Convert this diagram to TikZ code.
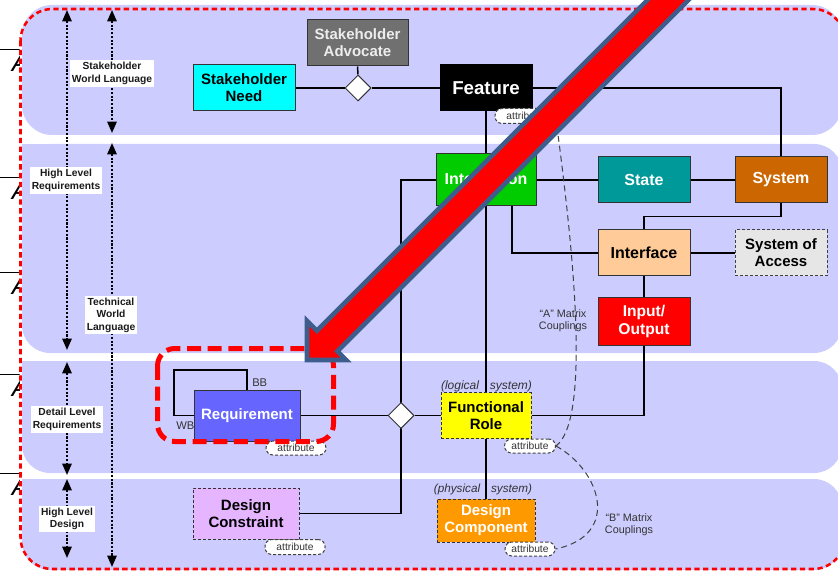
\documentclass[tikz,border=0pt]{standalone}
\usepackage{fontspec}
\setmainfont{Liberation Sans}
\usetikzlibrary{shapes.geometric,arrows.meta}
\pgfdeclarelayer{bands}\pgfdeclarelayer{lines}\pgfdeclarelayer{top}
\pgfsetlayers{bands,lines,main,top}
\definecolor{bandc}{HTML}{CCCCFF}
\definecolor{bordc}{HTML}{333333}
\definecolor{textd}{HTML}{1A1A1A}
\definecolor{dashc}{HTML}{404040}
\definecolor{advc}{HTML}{707070}
\definecolor{cyanc}{HTML}{00FFFF}
\definecolor{integc}{HTML}{00CC00}
\definecolor{statec}{HTML}{009999}
\definecolor{sysc}{HTML}{CC6600}
\definecolor{ifacec}{HTML}{FFCC99}
\definecolor{soac}{HTML}{E6E6E6}
\definecolor{ioc}{HTML}{FF0000}
\definecolor{frc}{HTML}{FFFF00}
\definecolor{reqc}{HTML}{6666FF}
\definecolor{dconc}{HTML}{E5B5FF}
\definecolor{dcompc}{HTML}{FF9900}
\definecolor{arrowb}{HTML}{3D5E8C}
\begin{document}
\begin{tikzpicture}[x=0.75pt,y=-0.75pt,
  box/.style={draw=bordc, line width=0.75pt, rectangle, inner sep=0pt, align=center,
    font=\fontsize{11.25}{12.75}\selectfont\bfseries},
  boxsize/.style 2 args={minimum width=#1*0.75pt, minimum height=#2*0.75pt},
  dbox/.style={box, dash pattern=on 2.25pt off 1.5pt},
  big/.style={font=\fontsize{12}{13}\selectfont\bfseries},
  pill/.style={draw=dashc, fill=white, line width=0.75pt, dash pattern=on 2.25pt off 1.5pt,
    rounded corners=5.25pt, inner sep=0pt, font=\fontsize{7.7}{9}\selectfont, text=bordc},
  diam/.style={diamond, aspect=1, draw=bordc, fill=white, line width=0.75pt, inner sep=0pt,
    minimum width=26*0.75pt, minimum height=26*0.75pt},
  conn/.style={draw=black, line width=1.1pt},
  lvl/.style={fill=white, inner sep=1.6pt, align=center,
    font=\fontsize{7.7}{9.3}\selectfont\bfseries, text=textd},
  darr/.style={line width=1.3pt, dash pattern=on 1.6pt off 1.2pt,
    {Triangle[length=8.5pt,width=7pt]}-{Triangle[length=8.5pt,width=7pt]}},
  cpl/.style={draw=dashc, line width=0.75pt, dash pattern=on 4.5pt off 3pt},
  small/.style={inner sep=0pt, text=bordc, font=\fontsize{8.1}{8.8}\selectfont, align=center},
  lettera/.style={inner sep=0pt, font=\fontsize{19}{19}\selectfont\itshape}
]
\useasboundingbox (0,0) rectangle (838,573);

% ---------- bands and outer frame ----------
\begin{pgfonlayer}{bands}
  \begin{scope}
    \clip (0,0) rectangle (19.5,573);
    \foreach \yy/\nm in {50/la,178/lb,273/lc,374/ld,473/le} {
      \draw[line width=0.75pt] (0,\yy) -- (20,\yy);
      \node[lettera, anchor=base west] (\nm) at (11.5,\yy+22) {A};
    }
  \end{scope}
  \fill[bandc, rounded corners=22.5pt] (22,5) rectangle (842,135);
  \fill[bandc, rounded corners=21pt] (22,144) rectangle (842,353);
  \fill[bandc] (22,144) rectangle (70,200);
  \fill[bandc, rounded corners=21pt] (22,361) rectangle (842,473);
  \fill[bandc] (22,361) rectangle (70,400);
  \fill[bandc, rounded corners=21pt] (22,479) rectangle (842,570);
  \fill[bandc] (22,479) rectangle (70,520);
  \draw[red, line width=1.9pt, dash pattern=on 4pt off 2.6pt, rounded corners=24pt]
    (20.5,9) rectangle (845,569);
\end{pgfonlayer}

% ---------- level arrows ----------
\coordinate (c1a) at (67,10);  \coordinate (c1b) at (67,350);
\coordinate (c1c) at (67,362); \coordinate (c1d) at (67,475);
\coordinate (c1e) at (67,479); \coordinate (c1f) at (67,558);
\coordinate (c2a) at (112,10); \coordinate (c2b) at (112,133);
\coordinate (c2c) at (112,143); \coordinate (c2d) at (112,567);
\begin{pgfonlayer}{lines}
  \draw[darr] (c1a) -- (c1b);
  \draw[darr] (c1c) -- (c1d);
  \draw[darr] (c1e) -- (c1f);
  \draw[darr] (c2a) -- (c2b);
  \draw[darr] (c2c) -- (c2d);
\end{pgfonlayer}
\node[lvl] (swl) at (112,73.5) {Stakeholder\\World Language};
\node[lvl] (hlr) at (66,180.5) {High Level\\Requirements};
\node[lvl] (twl) at (111,315) {Technical\\World\\Language};
\node[lvl] (dlr) at (67,419.5) {Detail Level\\Requirements};
\node[lvl] (hld) at (67,519) {High Level\\Design};

% ---------- nodes ----------
\node[box, boxsize={101}{46}, fill=advc, text=white!93!black] (adv) at (357.5,43) {Stakeholder\\Advocate};
\node[box, boxsize={102}{46}, fill=cyanc, text=black] (need) at (244,88) {Stakeholder\\Need};
\node[diam] (d1) at (358,88) {};
\node[box, boxsize={92}{46}, fill=black, draw=black, text=white,
  font=\fontsize{14}{15}\selectfont\bfseries] (feat) at (486,88) {Feature};
\node[pill, boxsize={60}{15}] (attrF) at (525,116) {attribute};
\node[box, big, boxsize={100}{52}, fill=integc, text=white] (integ) at (486,180) {Integration};
\node[box, big, boxsize={92}{46}, fill=statec, text=white] (state) at (644,180) {State};
\node[box, big, boxsize={92}{46}, fill=sysc, text=white] (sys) at (781,180) {System};
\node[box, big, boxsize={92}{46}, fill=ifacec, text=black] (iface) at (644,253) {Interface};
\node[dbox, boxsize={92}{46}, fill=soac, text=black, draw=dashc] (soa) at (781,253) {System of\\Access};
\node[box, boxsize={92}{47}, fill=ioc, text=white, font=\fontsize{11.7}{13}\selectfont\bfseries] (io) at (644,321.5) {Input/\\Output};
\node[dbox, boxsize={90}{46}, fill=frc, text=black] (fr) at (486,415.5) {Functional\\Role};
\node[small, font=\fontsize{9}{10}\selectfont\itshape] (lsys) at (486.5,386) {(logical\hspace{8.2pt}system)};
\node[diam] (d2) at (401,415.5) {};
\node[box, boxsize={106}{51}, fill=reqc, text=white] (req) at (247,415.5) {Requirement};
\node[pill, boxsize={60}{14}] (attrR) at (296,448) {attribute};
\node[pill, boxsize={51}{14}] (attrFR) at (530,446) {attribute};
\node[dbox, boxsize={106}{51}, fill=dconc, text=black] (dcon) at (246,513.5) {Design\\Constraint};
\node[pill, boxsize={60}{15}] (attrDC) at (295,547) {attribute};
\node[dbox, boxsize={98}{43}, fill=dcompc, text=white] (dcomp) at (486,520.5) {Design\\Component};
\node[small, font=\fontsize{8.8}{10}\selectfont\itshape] (psys) at (483,489) {(physical\hspace{8.2pt}system)};
\node[pill, boxsize={50}{14}] (attrDP) at (530,549) {attribute};
\node[small, font=\fontsize{8.4}{9}\selectfont, anchor=base west] (bb) at (252,386) {BB};
\node[small, font=\fontsize{8.4}{9}\selectfont, anchor=base west] (wb) at (176,429.5) {WB};
\node[small] (amat) at (563,321) {“A” Matrix\\Couplings};
\node[small] (bmat) at (629,525) {“B” Matrix\\Couplings};
\coordinate (loopc) at (174,370);

% ---------- connectors ----------
\begin{pgfonlayer}{lines}
  \draw[conn] (need.east) -- (d1.west);
  \draw[conn] (d1.east) -- (feat.west);
  \draw[conn] (d1.north) -- (adv.south);
  \draw[conn] (feat.east) -| (sys.north);
  \draw[conn] (feat.south) -- (dcomp.north);
  \draw[conn] (integ.west) -| (d2.center) |- (dcon.east);
  \draw[conn] (integ.east) -- (state.west);
  \draw[conn] ([xshift=26*0.75pt]integ.south) |- (iface.west);
  \draw[conn] (state.east) -- (sys.west);
  \draw[conn] (sys.south) -- ++(0,13) -| (iface.north);
  \draw[conn] (iface.east) -- (soa.west);
  \draw[conn] (iface.south) -- (io.north);
  \draw[conn] (io.south) |- (fr.east);
  \draw[conn] (fr.west) -- (d2.east);
  \draw[conn] (d2.west) -- (req.east);
  \draw[conn] (req.north) |- (loopc) |- (req.west);
  \draw[cpl] (attrF.east) .. controls (575,260) and (590,420) .. (attrFR.east);
  \draw[cpl] (attrFR.east) .. controls (600,470) and (622,535) .. (attrDP.east);
\end{pgfonlayer}

% ---------- highlight and big arrow ----------
\begin{pgfonlayer}{top}
  \draw[red, line width=3.75pt, dash pattern=on 10.5pt off 5pt, rounded corners=13pt]
    (157.5,348.5) rectangle (333.5,441.5);
  \coordinate (tip) at (307,360);
  \filldraw[fill=red, draw=arrowb, line width=3.4pt, line join=miter]
    (tip) -- (346.2,360) -- (337.4,351.2) -- (742.3,-53.8) -- (721.8,-74.3)
    -- (316.9,330.7) -- (307,320.8) -- cycle;
\end{pgfonlayer}
\end{tikzpicture}
\end{document}
